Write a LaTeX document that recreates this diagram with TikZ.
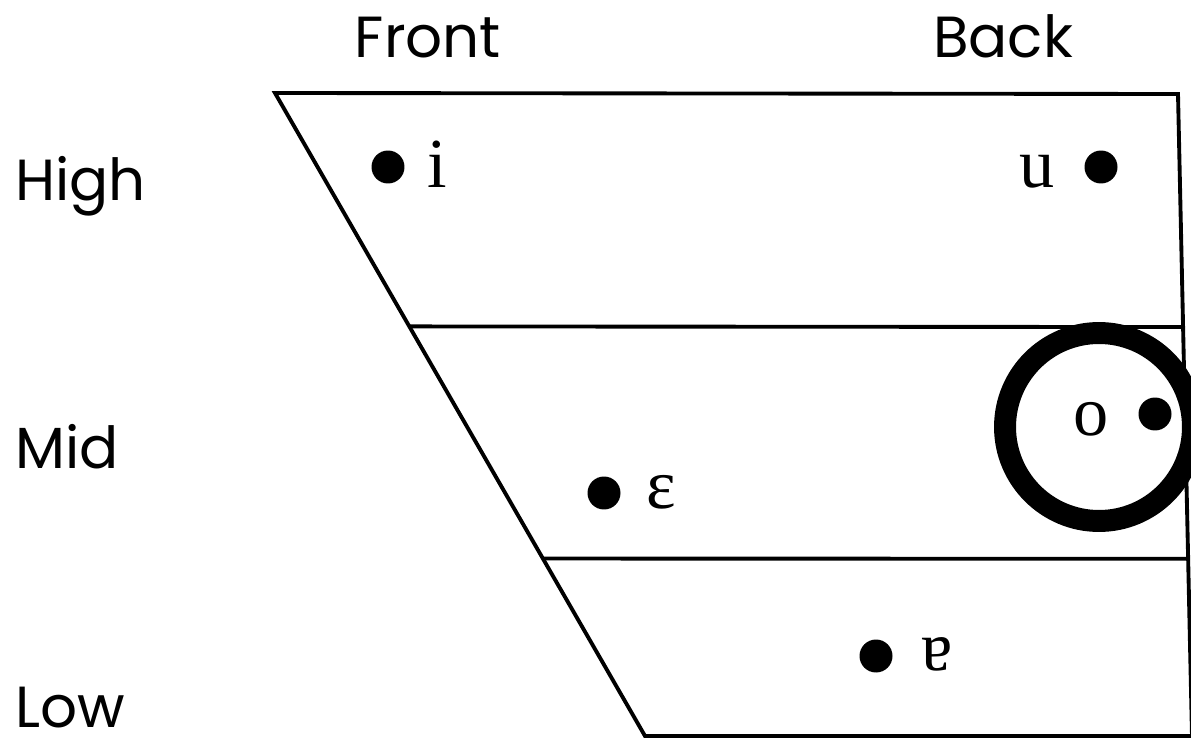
\documentclass[tikz,border=0pt]{standalone}
\usepackage{fontspec}
\setmainfont{Poppins}
\newfontfamily\ipafont{Liberation Serif}
\usetikzlibrary{positioning,calc}

\begin{document}
\begin{tikzpicture}[
  x=0.02cm, y=-0.02cm,
  lbl/.style={font=\fontsize{33}{38}\selectfont, inner sep=0pt},
  ipa/.style={font=\fontsize{40}{44}\selectfont\ipafont, inner sep=0pt},
  vdot/.style={circle, fill=black, minimum size=0.66cm, inner sep=0pt},
  ring/.style={draw, circle, line width=12.5pt, minimum size=3.76cm, inner sep=0pt},
  chart/.style={line width=2.2pt, line join=miter}
]
\useasboundingbox (0,0) rectangle (1191,740);

% corners of the chart
\coordinate (tl) at (275,93);
\coordinate (tr) at (1178,94);
\coordinate (bl) at (645,736);
\coordinate (br) at (1192,736);
\coordinate (ml) at ($(tl)!0.363!(bl)$);
\coordinate (mr) at ($(tr)!0.363!(br)$);
\coordinate (ll) at ($(tl)!0.724!(bl)$);
\coordinate (lr) at ($(tr)!0.724!(br)$);

\draw[chart] (br) -- (bl) -- (tl) -- (tr) -- (br);
\draw[chart] (ml) -- (mr);
\draw[chart] (ll) -- (lr);

% axis labels
\node[lbl, anchor=base] (front) at (428,58)  {Front};
\node[lbl, anchor=base] (back)  at (1003,58) {Back};
\node[lbl, anchor=base west] (high) at (15,200) {High};
\node[lbl, anchor=base west] (mid)  at (15,468) {Mid};
\node[lbl, anchor=base west] (low)  at (15,727) {Low};

% vowels
\node[vdot] (idot) at (388,167) {};
\node[ipa, anchor=base] (i) at (437,188) {i};
\node[vdot] (udot) at (1101,167) {};
\node[ipa, anchor=base] (u) at (1037,188) {u};
\node[vdot] (odot) at (1155,414) {};
\node[ipa, anchor=base] (o) at (1091,435) {o};
\node[vdot] (edot) at (604,493) {};
\node[ipa, anchor=base] (e) at (661,508) {ɛ};
\node[vdot] (adot) at (876,656) {};
\node[ipa, anchor=base] (a) at (937,670) {ɐ};

\node[ring] (circ) at (1099,427) {};

\end{tikzpicture}
\end{document}
